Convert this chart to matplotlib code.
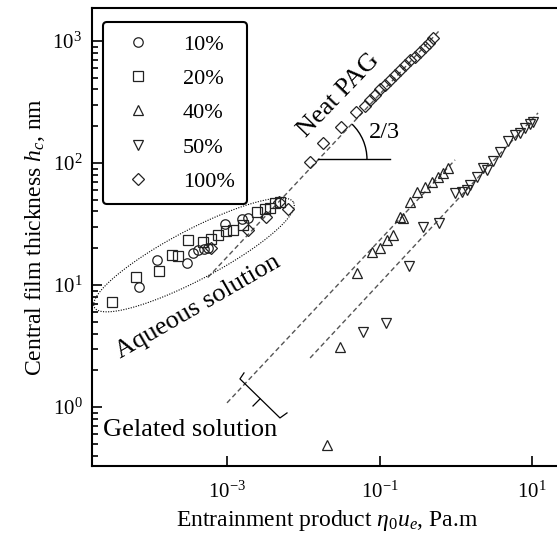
import numpy as np
import matplotlib
matplotlib.use("Agg")
import matplotlib.pyplot as plt
from matplotlib.patches import Arc
from matplotlib import transforms
from matplotlib.ticker import LogLocator, NullFormatter, FixedLocator, NullLocator

plt.rcParams['font.family'] = ['Liberation Serif', 'DejaVu Serif']
plt.rcParams['mathtext.fontset'] = 'custom'
plt.rcParams['mathtext.rm'] = 'Liberation Serif'
plt.rcParams['mathtext.it'] = 'Liberation Serif:italic'
plt.rcParams['mathtext.bf'] = 'Liberation Serif:bold'

# ---------------- data ----------------
c10_x = [7.08e-5, 1.20e-4, 2.96e-4, 3.53e-4, 4.17e-4, 4.99e-4, 5.69e-4, 9.41e-4, 1.57e-3, 1.90e-3]
c10_y = [9.57, 16.0, 15.2, 18.2, 19.2, 19.7, 20.0, 31.3, 34.7, 35.2]

c20_x = [3.10e-5, 6.35e-5, 1.28e-4, 1.90e-4, 2.30e-4, 3.08e-4, 4.89e-4, 6.17e-4, 7.69e-4,
         9.70e-4, 1.21e-3, 1.62e-3, 2.45e-3, 3.15e-3, 3.66e-3, 4.26e-3, 4.95e-3]
c20_y = [7.19, 11.6, 13.1, 17.6, 17.3, 23.2, 22.5, 23.6, 25.7,
         27.5, 28.2, 31.0, 39.3, 41.7, 42.8, 46.6, 48.2]

c40_x = [2.03e-2, 3.03e-2, 5.02e-2, 7.91e-2, 0.102, 0.124, 0.152, 0.186, 0.205,
         0.251, 0.308, 0.395, 0.484, 0.590, 0.687, 0.798]
c40_y = [0.489, 3.10, 12.5, 18.7, 20.0, 23.4, 25.7, 36.3, 35.2,
         48.2, 58.2, 64.0, 70.3, 77.2, 82.4, 90.5]

c50_x = [6.14e-2, 0.122, 0.246, 0.375, 0.608, 0.977, 1.20, 1.39, 1.54, 1.88, 2.30, 2.55,
         3.11, 3.80, 4.89, 5.98, 6.96, 8.09, 9.42, 10.4]
c50_y = [4.14, 4.85, 14.3, 30.1, 32.4, 57.1, 58.2, 60.1, 66.1, 77.2, 90.5, 87.7,
         103, 124, 150, 170, 177, 192, 209, 218]

c100_x = [6.26e-4, 1.90e-3, 3.24e-3, 4.85e-3, 6.37e-3, 1.23e-2, 1.82e-2, 3.13e-2, 4.92e-2,
          6.46e-2, 7.50e-2, 8.73e-2, 0.102, 0.118, 0.137, 0.160, 0.186, 0.216, 0.251,
          0.292, 0.340, 0.395, 0.450, 0.508]
c100_y = [20.0, 28.2, 35.8, 48.2, 41.7, 102, 146, 197, 262,
          293, 328, 361, 402, 436, 479, 526, 578, 636, 698,
          743, 817, 898, 968, 1052]

# fitted 2/3-slope lines (end points)
fit_neat_x = [5.6e-4, 0.62]
fit_neat_y = [11.5, 1230]
fit_40_x = [1.0e-3, 0.98]
fit_40_y = [1.08, 106]
fit_50_x = [1.23e-2, 12.0]
fit_50_y = [2.52, 257]

x_ticks = [1e-3, 1e-1, 1e1]
labels = ['10%', '20%', '40%', '50%', '100%']
markers = ['o', 's', '^', 'v', 'D']

# ---------------- figure ----------------
fig = plt.figure(figsize=(5.57, 5.37), dpi=100)
ax = fig.add_axes([0.1652, 0.1322, 0.8447, 0.8529])
ax.set_xscale('log')
ax.set_yscale('log')
ax.set_xlim(10**-4.77, 10**1.4)
ax.set_ylim(10**-0.484, 10**3.27)

dash_kw = dict(color='#555555', lw=1.0, dashes=(3.5, 2.2), zorder=1)
ax.plot(fit_neat_x, fit_neat_y, **dash_kw)
ax.plot(fit_40_x, fit_40_y, **dash_kw)
ax.plot(fit_50_x, fit_50_y, **dash_kw)

mk = dict(ls='none', mfc='none', mec='#222222', mew=0.9, zorder=3)
series = [(c10_x, c10_y, 6.8), (c20_x, c20_y, 7.0), (c40_x, c40_y, 6.8),
          (c50_x, c50_y, 6.8), (c100_x, c100_y, 6.2)]
handles = []
for (xs, ys, ms), lab, m in zip(series, labels, markers):
    h, = ax.plot(xs, ys, marker=m, ms=ms, label=lab, **mk)
    handles.append(h)

# ellipse around aqueous solutions (in log space)
ell_c = (-3.433, 1.246)
ell_a = (1.306, 0.430)
ell_b = (0.153, -0.181)
t = np.linspace(0, 2 * np.pi, 300)
ex = ell_c[0] + ell_a[0] * np.cos(t) + ell_b[0] * np.sin(t)
ey = ell_c[1] + ell_a[1] * np.cos(t) + ell_b[1] * np.sin(t)
ax.plot(10**ex, 10**ey, color='black', lw=0.8, ls=(0, (1, 1.3)), zorder=2)

# angle marker
vx, vy = 0.0156, 107
ax.plot([vx, 0.137], [vy, vy], color='black', lw=1.0)
tr = fig.dpi_scale_trans + transforms.ScaledTranslation(vx, vy, ax.transData)
ax.add_patch(Arc((0, 0), 0.98, 0.98, theta1=0, theta2=46, transform=tr,
                 color='black', lw=1.0))
ax.text(0.073, 176, '2/3', fontsize=17.5, ha='left', va='center')

# brace for gelated solution
br_lx = [-2.777, -2.830, -2.305, -2.213]
br_ly = [0.279, 0.230, -0.090, -0.049]
ax.plot(10**np.array(br_lx), 10**np.array(br_ly), color='black', lw=0.9)
ax.plot(10**np.array([-2.567, -2.659]), 10**np.array([0.066, 0.008]), color='black', lw=0.9)

ax.text(10**-1.53, 10**2.55, 'Neat PAG', fontsize=19, rotation=46, ha='center', va='center',
        rotation_mode='anchor')
ax.text(10**-3.38, 10**0.82, 'Aqueous solution', fontsize=19, rotation=30, ha='center', va='center',
        rotation_mode='anchor')
ax.text(10**-4.63, 10**-0.19, 'Gelated solution', fontsize=19, ha='left', va='center')

# axes styling
ax.spines['right'].set_visible(False)
for s in ['left', 'bottom', 'top']:
    ax.spines[s].set_linewidth(1.5)
ax.xaxis.set_major_locator(FixedLocator(x_ticks))
ax.xaxis.set_minor_locator(NullLocator())
ax.yaxis.set_major_locator(LogLocator(base=10.0, numticks=10))
ax.yaxis.set_minor_locator(LogLocator(base=10.0, subs=np.arange(2, 10), numticks=20))
ax.yaxis.set_minor_formatter(NullFormatter())
ax.tick_params(which='both', direction='in', top=False, right=False, labelsize=15, width=1.2)
ax.tick_params(which='major', length=7)
ax.tick_params(axis='y', which='major', pad=7)
ax.tick_params(axis='x', which='major', pad=11)
ax.tick_params(which='minor', length=4)

ax.set_xlabel(r'Entrainment product $\eta_0 u_e$, Pa.m', fontsize=17, labelpad=4)
ax.set_ylabel(r'Central film thickness $h_c$, nm', fontsize=17, labelpad=4)

leg = ax.legend(handles=handles, loc='upper left', bbox_to_anchor=(0.023, 0.97),
                borderaxespad=0, fontsize=16, frameon=True, fancybox=True,
                labelspacing=0.62, handlelength=2.1, handletextpad=0.96, borderpad=0.55,
                numpoints=1)
leg.get_frame().set_edgecolor('black')
leg.get_frame().set_linewidth(1.5)
leg.get_frame().set_alpha(1)

fig.savefig('out.png', dpi=100)
